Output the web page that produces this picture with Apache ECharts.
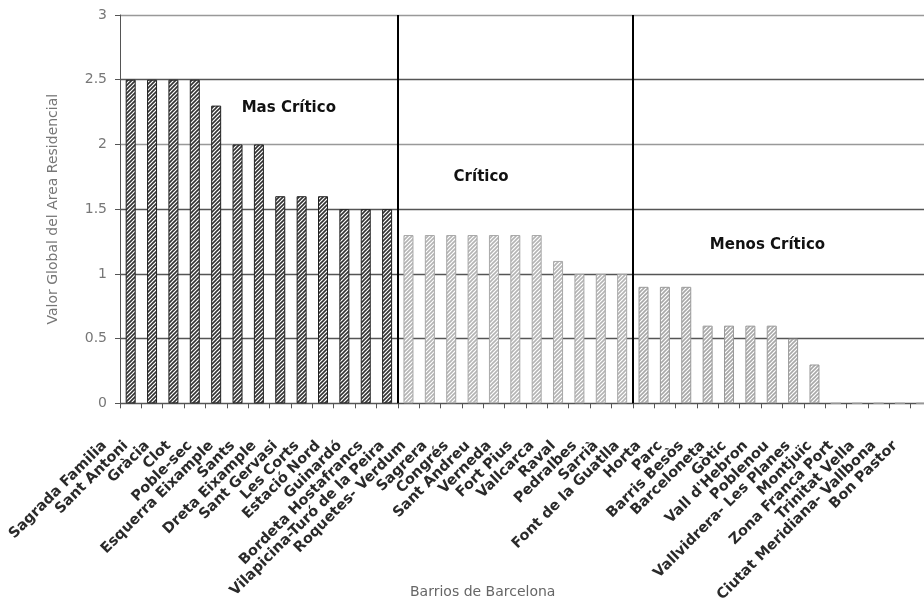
<!DOCTYPE html>
<html>
<head>
<meta charset="utf-8">
<script src="https://cdn.jsdelivr.net/npm/echarts@6/dist/echarts.min.js"></script>
<style>
  html, body { margin: 0; padding: 0; background: #fff; overflow: hidden; }
  /* the plot runs a little past the right edge of the page */
  #chart { width: 935px; height: 605px; }
</style>
</head>
<body>
<div id="chart"></div>
<script>
// Barrios de Barcelona, ordered by "Valor Global del Área Residencial"
const barrios = [
  'Sagrada Familia', 'Sant Antoni', 'Gràcia', 'Clot', 'Poble-sec',
  'Esquerra Eixample', 'Sants', 'Dreta Eixample', 'Sant Gervasi', 'Les Corts',
  'Estació Nord', 'Guinardó', 'Bordeta Hostafrancs', 'Vilapicina-Turó de la Peira',
  'Roquetes- Verdum', 'Sagrera', 'Congrés', 'Sant Andreu', 'Verneda', 'Fort Pius',
  'Vallcarca', 'Raval', 'Pedralbes', 'Sarrià', 'Font de la Guatlla', 'Horta',
  'Parc', 'Barris Besòs', 'Barceloneta', 'Gòtic', "Vall d'Hebron", 'Poblenou',
  'Vallvidrera- Les Planes', 'Montjuïc', 'Zona Franca Port', 'Trinitat Vella',
  'Ciutat Meridiana- Vallbona', 'Bon Pastor'
];

// Values per zone
const masCritico   = [2.5, 2.5, 2.5, 2.5, 2.3, 2.0, 2.0, 1.6, 1.6, 1.6, 1.5, 1.5, 1.5];
const critico      = [1.3, 1.3, 1.3, 1.3, 1.3, 1.3, 1.3, 1.1, 1.0, 1.0, 1.0];
const menosCritico = [0.9, 0.9, 0.9, 0.6, 0.6, 0.6, 0.6, 0.5, 0.3, 0, 0, 0, 0, 0];

const zoneNames = ['Mas Crítico', 'Crítico', 'Menos Crítico'];

const yMin = 0, yMax = 3, yStep = 0.5;

// Where each zone caption sits, in (category slot, value) units
const zoneCaptionAt = [[7.9, 2.28], [16.9, 1.75], [30.3, 1.22]];

// Diagonal hatch fill for the bars
function hatch(fg, bg) {
  const c = document.createElement('canvas');
  c.width = 4; c.height = 4;
  const g = c.getContext('2d');
  g.fillStyle = bg; g.fillRect(0, 0, 4, 4);
  g.strokeStyle = fg; g.lineWidth = 1.6;
  g.beginPath();
  g.moveTo(-1, 5); g.lineTo(5, -1);
  g.moveTo(-1, 1); g.lineTo(1, -1);
  g.moveTo(3, 5); g.lineTo(5, 3);
  g.stroke();
  return c;
}

const zoneStyles = [
  { color: { image: hatch('#333333', '#ffffff'), repeat: 'repeat' }, borderColor: '#222222', borderWidth: 1 },
  { color: { image: hatch('#b4b4b4', '#ffffff'), repeat: 'repeat' }, borderColor: '#a8a8a8', borderWidth: 1 },
  { color: { image: hatch('#a8a8a8', '#ffffff'), repeat: 'repeat' }, borderColor: '#9a9a9a', borderWidth: 1 }
];

const zones = [masCritico, critico, menosCritico];
const barData = [];
zones.forEach((vals, z) => {
  vals.forEach(v => barData.push({ value: v, itemStyle: zoneStyles[z] }));
});

// Zone boundaries in slot units (after the 1st and 2nd zones)
const dividers = [masCritico.length, masCritico.length + critico.length];

const chart = echarts.init(document.getElementById('chart'), null, { renderer: 'canvas' });

chart.setOption({
  animation: false,
  backgroundColor: '#ffffff',
  textStyle: { fontFamily: 'DejaVu Sans' },
  grid: { left: 120, top: 15, right: 3, bottom: 200, containLabel: false },
  xAxis: [
    {
      type: 'category',
      data: barrios,
      boundaryGap: true,
      axisLine: { lineStyle: { color: '#555', width: 1 } },
      axisTick: { show: true, length: 5, lineStyle: { color: '#555' } },
      axisLabel: {
        interval: 0,
        rotate: 45,
        fontSize: 14.5,
        fontWeight: 'bold',
        color: '#2a2a2a',
        margin: 14,
        padding: [0, 37, 0, 0],
        fontFamily: 'DejaVu Sans'
      },
      splitLine: { show: false }
    },
    {
      type: 'value',
      min: 0,
      max: barrios.length,
      show: false
    }
  ],
  yAxis: {
    type: 'value',
    min: yMin,
    max: yMax,
    interval: yStep,
    name: 'Valor Global del Area Residencial',
    nameLocation: 'middle',
    nameGap: 60,
    nameRotate: 90,
    nameTextStyle: { fontSize: 14, color: '#777', fontFamily: 'DejaVu Sans' },
    axisLine: { show: true, lineStyle: { color: '#555', width: 1 } },
    axisTick: { show: true, length: 5, lineStyle: { color: '#555' } },
    axisLabel: { fontSize: 14, color: '#777', margin: 13, fontFamily: 'DejaVu Sans' },
    splitLine: {
      show: true,
      lineStyle: { color: ['#555', '#555', '#555', '#555', '#999', '#555', '#999'], width: 1.3 }
    }
  },
  graphic: [
    {
      type: 'text',
      left: 410,
      top: 585,
      style: { text: 'Barrios de Barcelona', fontSize: 14, fill: '#666', fontFamily: 'DejaVu Sans' }
    }
  ],
  series: [
    {
      type: 'bar',
      data: barData,
      barWidth: 10,
      xAxisIndex: 0
    },
    {
      type: 'scatter',
      xAxisIndex: 1,
      data: [],
      silent: true,
      markLine: {
        silent: true,
        symbol: 'none',
        label: { show: false },
        lineStyle: { color: '#000', width: 2, type: 'solid' },
        data: dividers.map(d => ({ xAxis: d }))
      },
      markPoint: {
        silent: true,
        symbol: 'circle',
        symbolSize: 1,
        itemStyle: { color: 'rgba(0,0,0,0)' },
        label: {
          show: true,
          position: 'inside',
          color: '#111',
          fontSize: 15,
          fontWeight: 'bold',
          fontFamily: 'DejaVu Sans',
          formatter: p => p.name
        },
        data: zoneNames.map((n, i) => ({ name: n, coord: zoneCaptionAt[i] }))
      }
    }
  ]
});
</script>
</body>
</html>
